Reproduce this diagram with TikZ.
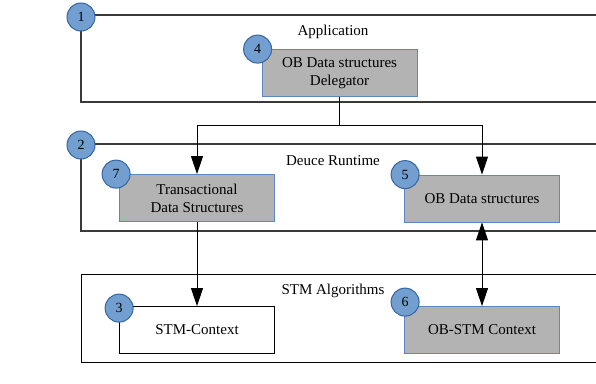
\documentclass[tikz,border=0pt]{standalone}
\usepackage{fontspec}
\setmainfont{Liberation Serif}
\usetikzlibrary{arrows.meta}

\definecolor{boxgray}{HTML}{B3B3B3}
\definecolor{badgefill}{HTML}{729FCF}
\definecolor{badgeline}{HTML}{3465A4}
\definecolor{boxline}{HTML}{5B87C5}
\definecolor{frameline}{HTML}{3A3A3A}

\tikzset{
  frame/.style={draw=frameline, line width=1.1pt},
  databox/.style={draw=boxline, fill=boxgray, line width=0.8pt, align=center,
    minimum width=155pt, minimum height=47pt, font=\fontsize{15}{18}\selectfont},
  plainbox/.style={databox, draw=black, fill=white},
  badge/.style={circle, draw=badgeline, fill=badgefill, line width=1pt,
    minimum size=28pt, inner sep=0pt, font=\fontsize{14}{16}\selectfont},
  title/.style={font=\fontsize{15}{18}\selectfont},
  arr/.style={line width=0.9pt, -{Triangle[width=12pt,length=18pt]}},
  darr/.style={line width=0.9pt, {Triangle[width=12pt,length=18pt]}-{Triangle[width=12pt,length=18pt]}}
}

\begin{document}
\begin{tikzpicture}[x=1pt,y=-1pt]
  \useasboundingbox (0,0) rectangle (596,383);
  % layers, running off the right edge
  \begin{scope}
    \clip (0,0) rectangle (596,383);
    \draw[frame] (81,15) rectangle (640,102);
    \draw[frame] (81,144) rectangle (640,231);
    \draw[frame, draw=black, line width=0.9pt] (81,274) rectangle (640,362);
  \end{scope}

  \node[title] (app) at (333,32) {Application};
  \node[title] (deuce) at (333,161) {Deuce Runtime};
  \node[title] (stmalg) at (333,291) {STM Algorithms};

  \node[databox] (deleg) at (339.5,73) {OB Data structures\\Delegator};
  \node[databox] (txds) at (197,198) {Transactional\\Data Structures};
  \node[databox] (obds) at (482,198.5) {OB Data structures};
  \node[plainbox] (stmctx) at (197,330) {STM-Context};
  \node[databox] (obstm) at (482,330) {OB-STM Context};

  \coordinate (split) at (deleg.south |- 0,125);
  \draw[arr] (deleg.south) -- (split) -| (txds.north);
  \draw[arr] (split) -| (obds.north);
  \draw[arr] (txds.south) -- (stmctx.north);
  \draw[darr] (obds.south) -- (obstm.north);

  \node[badge] (b1) at (81,17) {1};
  \node[badge] (b2) at (81,145) {2};
  \node[badge] (b4) at ([xshift=-4pt]deleg.north west) {4};
  \node[badge] (b7) at ([xshift=-3pt]txds.north west) {7};
  \node[badge] (b5) at ([xshift=1pt]obds.north west) {5};
  \node[badge] (b3) at ([yshift=-2pt]stmctx.north west) {3};
  \node[badge] (b6) at ([xshift=1pt,yshift=4pt]obstm.north west) {6};
\end{tikzpicture}
\end{document}
